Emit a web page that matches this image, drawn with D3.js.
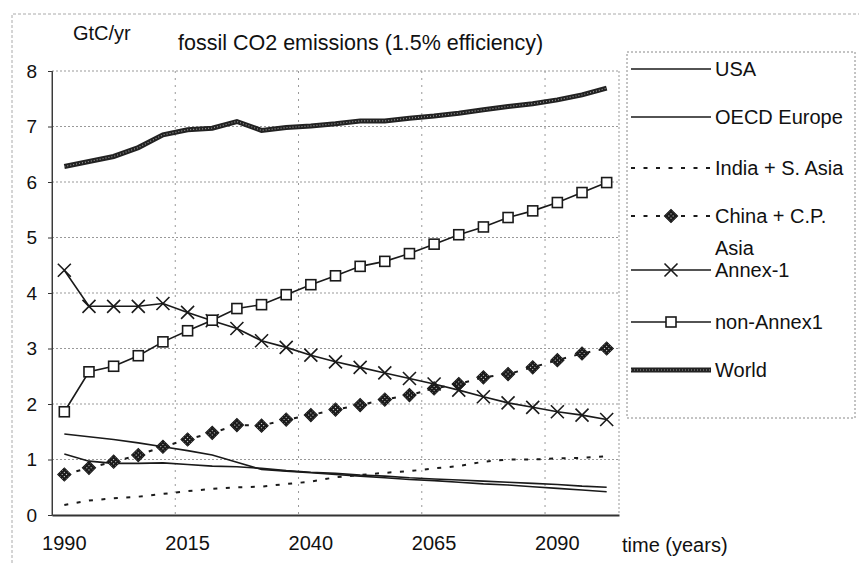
<!DOCTYPE html>
<meta charset="utf-8">
<title>fossil CO2 emissions (1.5% efficiency)</title>
<style>
body { margin: 0; background: #fff; }
svg { font-family: "Liberation Sans", Arial, sans-serif; }
.grid line { stroke: #999; stroke-width: 1; stroke-dasharray: 2,2; }
.axis text { fill: #111; }
.axis path, .axis line { stroke: #333; }
</style>
<svg width="859" height="563"></svg>
<script src="https://cdn.jsdelivr.net/npm/d3@7"></script>
<script>
var years = [1990,1995,2000,2005,2010,2015,2020,2025,2030,2035,2040,2045,
             2050,2055,2060,2065,2070,2075,2080,2085,2090,2095,2100];
var yearLabels = [1990, 2015, 2040, 2065, 2090];
var yTicks = [0,1,2,3,4,5,6,7,8];

var usa        = [1.46,1.41,1.36,1.30,1.23,1.16,1.08,0.95,0.82,0.79,0.76,0.73,0.70,0.67,0.64,0.62,0.59,0.56,0.54,0.51,0.48,0.45,0.42];
var oecdEurope = [1.10,0.97,0.93,0.93,0.94,0.91,0.88,0.87,0.84,0.80,0.77,0.75,0.72,0.70,0.67,0.65,0.63,0.61,0.59,0.57,0.55,0.52,0.50];
var india      = [0.18,0.26,0.30,0.33,0.38,0.43,0.47,0.50,0.51,0.56,0.60,0.68,0.72,0.76,0.79,0.84,0.88,0.96,1.00,1.00,1.02,1.03,1.06];
var china      = [0.73,0.85,0.96,1.08,1.23,1.36,1.48,1.62,1.61,1.72,1.80,1.90,1.98,2.08,2.16,2.28,2.36,2.48,2.54,2.66,2.79,2.91,3.00];
var annex1     = [4.41,3.76,3.76,3.76,3.81,3.65,3.50,3.36,3.14,3.02,2.88,2.76,2.66,2.56,2.46,2.36,2.25,2.13,2.02,1.94,1.86,1.80,1.72];
var nonAnnex1  = [1.86,2.58,2.68,2.87,3.12,3.32,3.51,3.72,3.79,3.97,4.15,4.31,4.48,4.57,4.71,4.88,5.05,5.19,5.36,5.48,5.63,5.81,5.99];
var world      = [6.28,6.37,6.46,6.62,6.85,6.94,6.97,7.09,6.93,6.98,7.01,7.05,7.10,7.10,7.15,7.19,7.24,7.30,7.36,7.41,7.48,7.57,7.69];

var series = [
  {name: "USA", values: usa, style: "thin"},
  {name: "OECD Europe", values: oecdEurope, style: "thin"},
  {name: "India + S. Asia", values: india, style: "dots"},
  {name: ["China + C.P.", "Asia"], values: china, style: "diamond"},
  {name: "Annex-1", values: annex1, style: "cross"},
  {name: "non-Annex1", values: nonAnnex1, style: "square"},
  {name: "World", values: world, style: "world"}
];

var svg = d3.select("svg");
var pLeft = 52, pRight = 619, pTop = 71, pBottom = 515;

var x = d3.scaleBand().domain(years).range([pLeft, pRight]).padding(0);
var y = d3.scaleLinear().domain([0, 8]).range([pBottom, pTop]);
var cx = function(yr) { return x(yr) + x.bandwidth() / 2; };

var defs = svg.append("defs");
var pat = defs.append("pattern")
    .attr("id", "dots").attr("width", 3).attr("height", 3)
    .attr("patternUnits", "userSpaceOnUse");
pat.append("rect").attr("width", 3).attr("height", 3).attr("fill", "#1a1a1a");
pat.append("rect").attr("x", 1).attr("y", 1).attr("width", 1).attr("height", 1).attr("fill", "#ddd");

// outer chart frame (dashed, light)
svg.append("path")
    .attr("d", "M12,563V14H859")
    .attr("fill", "none").attr("stroke", "#aaa").attr("stroke-dasharray", "3,2");

// grid
var grid = svg.append("g").attr("class", "grid");
grid.selectAll("line.h").data(yTicks.filter(function(d) { return d > 0; }))
  .enter().append("line")
    .attr("x1", pLeft).attr("x2", pRight)
    .attr("y1", function(d) { return y(d); })
    .attr("y2", function(d) { return y(d); });
grid.selectAll("line.v").data(yearLabels.slice(1))
  .enter().append("line")
    .attr("x1", function(d) { return x(d); })
    .attr("x2", function(d) { return x(d); })
    .attr("y1", pTop).attr("y2", pBottom)
    .style("stroke-dasharray", "2,5");
grid.append("line")
    .attr("x1", pRight).attr("x2", pRight).attr("y1", pTop).attr("y2", pBottom);

// axes
var yAxis = svg.append("g").attr("class", "axis")
    .attr("transform", "translate(" + pLeft + ",0)")
    .call(d3.axisLeft(y).tickValues(yTicks).tickSize(4).tickPadding(11));
yAxis.selectAll("text").style("font-size", "19px");

var xAxis = svg.append("g").attr("class", "axis")
    .attr("transform", "translate(0," + pBottom + ")")
    .call(d3.axisBottom(x).tickValues(yearLabels).tickSize(0).tickPadding(21));
xAxis.select(".domain").attr("stroke-width", 2);
xAxis.selectAll("text").style("font-size", "20px");

// titles
svg.append("text").attr("x", 73).attr("y", 40)
    .style("font-size", "20px").attr("fill", "#111").text("GtC/yr");
svg.append("text").attr("x", 178).attr("y", 50)
    .style("font-size", "21.5px").attr("fill", "#111").text("fossil CO2 emissions (1.5% efficiency)");
svg.append("text").attr("x", 622).attr("y", 552)
    .style("font-size", "20px").attr("fill", "#111").text("time (years)");

// lines
var line = d3.line()
    .x(function(d, i) { return cx(years[i]); })
    .y(function(d) { return y(d); });

function strokeFor(sel, style) {
  sel.attr("fill", "none").attr("stroke", "#1a1a1a").attr("stroke-width", 1.6);
  if (style == "dots" || style == "diamond") sel.attr("stroke-width", 2).attr("stroke-dasharray", "4,8.5");
  if (style == "world") sel.attr("stroke-width", 5).attr("stroke", "#222");
}

function marker(g, style, px, py) {
  if (style == "diamond") {
    g.append("rect").attr("x", -4.7).attr("y", -4.7).attr("width", 9.4).attr("height", 9.4)
      .attr("transform", "translate(" + px + "," + py + ") rotate(45)")
      .attr("fill", "url(#dots)").attr("stroke", "#1a1a1a").attr("stroke-width", 1);
  } else if (style == "square") {
    g.append("rect").attr("x", px - 5).attr("y", py - 5).attr("width", 10).attr("height", 10)
      .attr("fill", "#fff").attr("stroke", "#1a1a1a").attr("stroke-width", 1.6);
  } else if (style == "cross") {
    g.append("path")
      .attr("d", "M" + (px - 6.5) + "," + (py - 6.5) + "L" + (px + 6.5) + "," + (py + 6.5) +
                 "M" + (px - 6.5) + "," + (py + 6.5) + "L" + (px + 6.5) + "," + (py - 6.5))
      .attr("stroke", "#1a1a1a").attr("stroke-width", 1.6);
  }
}

var plot = svg.append("g");
series.forEach(function(s) {
  var p = plot.append("path").attr("d", line(s.values));
  strokeFor(p, s.style);
  if (s.style == "world") {
    plot.append("path").attr("d", line(s.values))
      .attr("fill", "none").attr("stroke", "#999").attr("stroke-width", 1.2)
      .attr("stroke-dasharray", "1,2");
  }
  var mg = plot.append("g");
  s.values.forEach(function(v, i) { marker(mg, s.style, cx(years[i]), y(v)); });
});

// y axis line drawn above the grid
svg.append("line").attr("x1", pLeft).attr("x2", pLeft).attr("y1", pTop).attr("y2", pBottom)
    .attr("stroke", "#444").attr("stroke-width", 1);

// legend
var legend = svg.append("g");
legend.append("rect").attr("x", 627).attr("y", 52).attr("width", 228).attr("height", 366)
    .attr("fill", "none").attr("stroke", "#888").attr("stroke-dasharray", "2,2");

var legendY = [69, 117, 168, 216, 270, 322, 370];
series.forEach(function(s, k) {
  var ly = legendY[k];
  var lp = legend.append("path").attr("d", "M631," + ly + "H711");
  strokeFor(lp, s.style);
  if (s.style == "world") {
    legend.append("path").attr("d", "M631," + ly + "H711")
      .attr("fill", "none").attr("stroke", "#999").attr("stroke-width", 1.2)
      .attr("stroke-dasharray", "1,2");
  }
  marker(legend, s.style, 671, ly);
  var names = [].concat(s.name);
  names.forEach(function(n, j) {
    legend.append("text").attr("x", 715).attr("y", ly + 7 + j * 32)
      .style("font-size", "20px").attr("fill", "#111").text(n);
  });
});
</script>
